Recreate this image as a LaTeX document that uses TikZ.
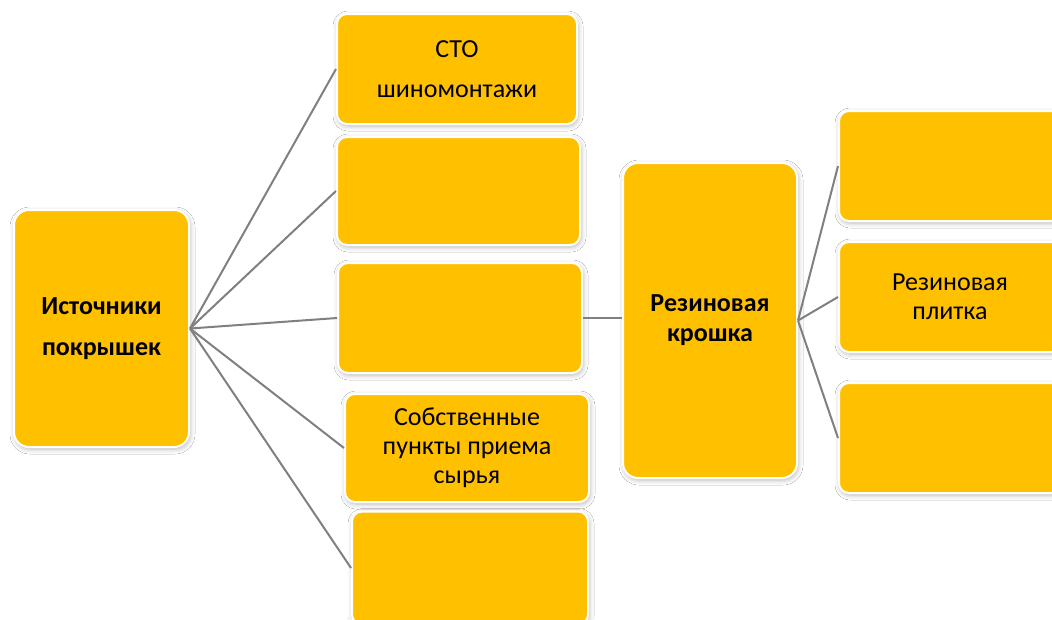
\documentclass[tikz,border=0pt]{standalone}
\usepackage{fontspec}
\setmainfont{Carlito}
\usetikzlibrary{shadows.blur}
\definecolor{boxfill}{HTML}{FFC000}
\definecolor{linkgray}{HTML}{808080}
\tikzset{
  box/.style={draw=white, line width=2pt, fill=boxfill, rounded corners=10pt,
    inner sep=0pt, align=center, font=\fontsize{26}{29}\selectfont,
    blur shadow={shadow xshift=1pt, shadow yshift=-2pt, shadow blur radius=5pt, shadow opacity=30}},
  bigbox/.style={box, rounded corners=15pt, font=\fontsize{26}{30}\selectfont\bfseries},
  link/.style={draw=linkgray, line width=2pt}
}
\begin{document}
\begin{tikzpicture}[x=1pt,y=-1pt]
\clip (0,0) rectangle (1052,619);
\fill[white] (0,0) rectangle (1052,619);
% left main box
\node[bigbox, minimum width=175pt, minimum height=237pt] (L) at (101.5,328.5) {Источники\\[11pt]покрышек};
% sources column
\node[box, minimum width=240pt, minimum height=110pt] (b1) at (457,69) {СТО\\[11pt]шиномонтажи};
\node[box, minimum width=243pt, minimum height=108pt] (b2) at (458.5,191) {};
\node[box, minimum width=244pt, minimum height=110pt] (b3) at (460,318) {};
\node[box, minimum width=244pt, minimum height=108pt] (b4) at (467,448) {Собственные\\пункты приема\\сырья};
\node[box, minimum width=236pt, minimum height=113pt] (b5) at (470,568) {};
% middle main box
\node[bigbox, minimum width=174pt, minimum height=315pt] (M) at (710,320.5) {Резиновая\\крошка};
% products column
\node[box, minimum width=222pt, minimum height=110pt] (r1) at (950,166) {};
\node[box, minimum width=222pt, minimum height=110pt] (r2) at (950,297) {Резиновая\\плитка};
\node[box, minimum width=222pt, minimum height=110pt] (r3) at (950,438) {};
% connectors
\path[link] (L.east) -- (b1.west);
\path[link] (L.east) -- (b2.west);
\path[link] (L.east) -- (b3.west);
\path[link] (L.east) -- (b4.west);
\path[link] (L.east) -- (b5.west);
\path[link] (b3.east) -- (b3.east -| M.west);
\path[link] (M.east) -- (r1.west);
\path[link] (M.east) -- (r2.west);
\path[link] (M.east) -- (r3.west);
\end{tikzpicture}
\end{document}
